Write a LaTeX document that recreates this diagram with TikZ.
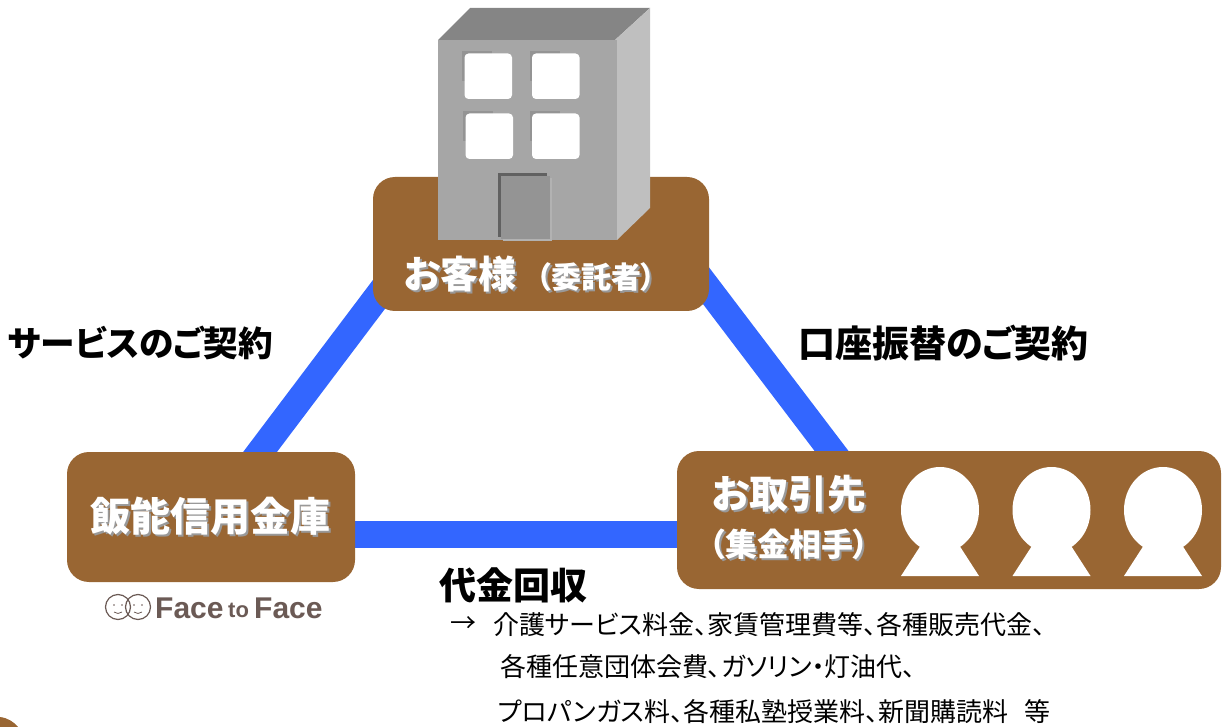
\documentclass[tikz,border=0pt]{standalone}
\usepackage{fontspec}
\newfontfamily\cjk[RawFeature=+palt]{Noto Sans CJK JP}
\newfontfamily\logofont{Liberation Sans}
\usetikzlibrary{calc, positioning, backgrounds}
\definecolor{boxbrown}{HTML}{996633}
\definecolor{linkblue}{HTML}{3366FF}
\definecolor{logogray}{HTML}{6B5A55}
\tikzset{
    partybox/.style={fill=boxbrown, rounded corners=22pt, inner sep=0pt},
    link/.style={draw=linkblue, line width=27pt},
    whitelabel/.style={text=white, inner sep=0pt, font=\cjk\bfseries},
    shadelabel/.style={text=black!40, inner sep=0pt, font=\cjk\bfseries},
    blacklabel/.style={text=black, inner sep=0pt, anchor=west, font=\cjk\bfseries},
    bodyline/.style={text=black, inner sep=0pt, anchor=west, font=\cjk\fontsize{26}{26}\selectfont},
    logotext/.style={text=logogray, inner sep=0pt, anchor=west, font=\logofont\bfseries},
}
\newcommand{\fsz}[1]{\fontsize{#1}{#1}\selectfont}
% white text with a soft shadow behind it
\newcommand{\shadowlabel}[4]{
    \node[shadelabel] (#2s) at ($(#1)+(2.2,2.2)$) {\fsz{#3}#4};
    \node[whitelabel] (#2) at (#1) {\fsz{#3}#4};
}
\begin{document}
\begin{tikzpicture}[x=1pt, y=-1pt]
    \useasboundingbox (0,0) rectangle (1227,727);

    % The three boxes
    \node[partybox, minimum width=336pt, minimum height=134pt] (customer) at (541,244) {};
    \node[partybox, minimum width=288pt, minimum height=130pt] (bank) at (211,517) {};
    \node[partybox, minimum width=544pt, minimum height=138pt] (payer) at (949,520) {};

    % Free ends of the links inside the boxes
    \coordinate (customerL) at (417,244);
    \coordinate (customerR) at (691,266);
    \coordinate (payerT) at (884,520);
    \coordinate (payerL) at (700,534);
    \coordinate (bankR) at (330,534);

    % Add links behind the boxes
    \begin{scope}[on background layer]
        \draw[link] (bank.center) -- (customerL);
        \draw[link] (customerR) -- (payerT);
        \draw[link] (bankR) -- (payerL);
    \end{scope}

    % Building
    \fill[black!48] (438,40) -- (470,8) -- (650,8) -- (615,40) -- cycle;
    \fill[black!25] (615,40) -- (650,8) -- (650,208) -- (617,240) -- cycle;
    \fill[black!35] (438,40) rectangle (617,240);
    \foreach \wx/\wy in {462/51, 529.5/51, 463/111, 529.5/111} {
        \fill[black!42] (\wx,\wy) rectangle (\wx+30,\wy+30);
        \fill[white, rounded corners=4pt] (\wx+2.5,\wy+2.5) rectangle (\wx+50,\wy+48);
    }
    \fill[black!62] (498,173) rectangle (547,237);
    \fill[black!30] (503,178) rectangle (552,241);
    \fill[black!42] (501,176) rectangle (550,239);

    % Add labels inside the boxes
    \shadowlabel{460,274}{customerA}{38}{お客様}
    \shadowlabel{596,277}{customerB}{30}{（委託者）}
    \shadowlabel{789,494}{payerA}{39}{お取引先}
    \shadowlabel{789,544}{payerB}{32}{（集金相手）}
    \shadowlabel{210,516}{bankname}{40}{飯能信用金庫}

    % Add the three people
    \foreach \px in {940, 1051.5, 1163} {
        \fill[white] (\px,510) ellipse [x radius=39, y radius=43];
        \fill[white] (\px-19,545) -- (\px+19,545) -- (\px+39,576) -- (\px-39,576) -- cycle;
    }

    % Add link labels
    \node[blacklabel] (serviceterm) at (8,343) {\fsz{34.7}サービスのご契約};
    \node[blacklabel] (transferterm) at (798,343) {\fsz{37}口座振替のご契約};
    \node[blacklabel] (collection) at (439,585) {\fsz{37}代金回収};

    % Add list under the collection label
    \node[bodyline] (arrowmark) at (450,625) {→};
    \node[bodyline] (itemsA) at (493,625) {介護サービス料金、家賃管理費等、各種販売代金、};
    \node[bodyline] (itemsB) at (500,667) {各種任意団体会費、ガソリン・灯油代、};
    \node[bodyline] (itemsC) at (498,712) {プロパンガス料、各種私塾授業料、新聞購読料\hspace{0.6em}等};

    % Add logo under the bank box
    \draw[logogray, line width=1.2pt] (118,607) circle [radius=12.5];
    \draw[logogray, line width=1.2pt] (138,607) circle [radius=12.5];
    \foreach \ex in {114,122,134,142} {
        \fill[logogray] (\ex,605) circle [radius=0.9];
    }
    \draw[logogray, line width=0.8pt] (114,612) -- (118,613.5) -- (122,612);
    \draw[logogray, line width=0.8pt] (134,612) -- (138,613.5) -- (142,612);
    \node[logotext] (logoA) at (155,608) {\fsz{30}Face};
    \node[logotext] (logoB) at (228,610) {\fsz{22}to};
    \node[logotext] (logoC) at (254,608) {\fsz{30}Face};

    % Corner of a shape cut off at the bottom left
    \fill[boxbrown] (0,717) .. controls (8,718) and (14,722) .. (18,727) -- (0,727) -- cycle;
\end{tikzpicture}
\end{document}
